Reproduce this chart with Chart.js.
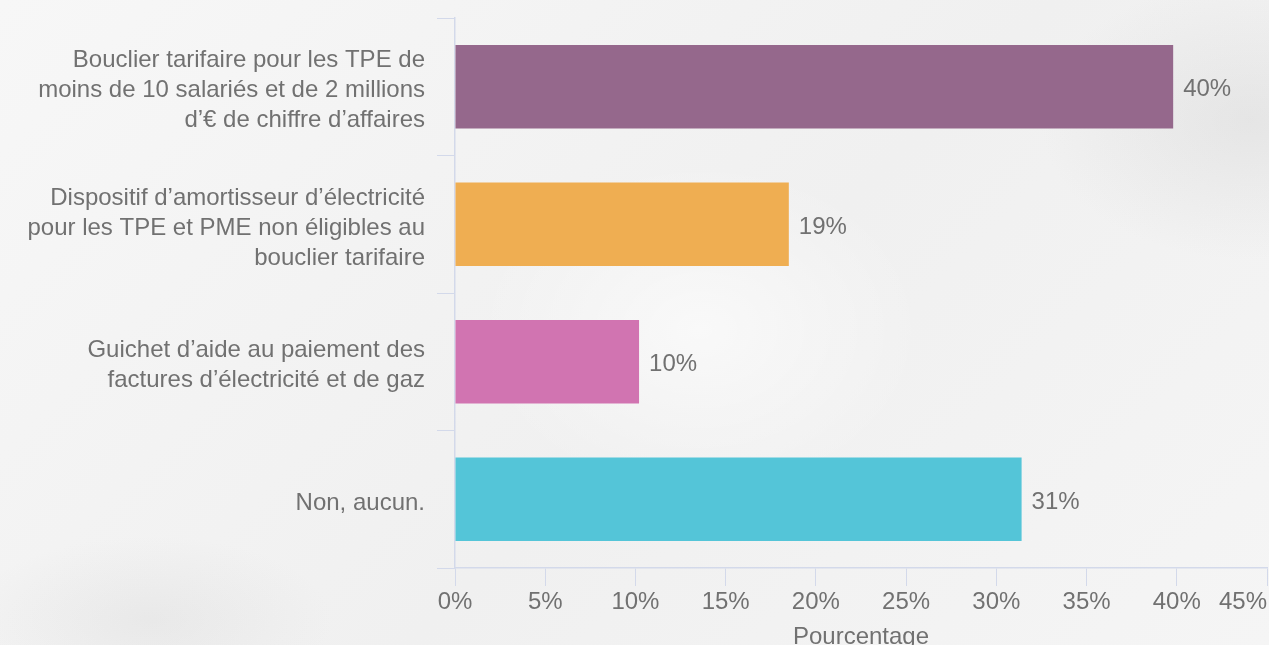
<!DOCTYPE html>
<html lang="fr">
<head>
<meta charset="utf-8">
<title>Dispositifs d'aide</title>
<script src="https://cdn.jsdelivr.net/npm/chart.js@4.4.1/dist/chart.umd.min.js"></script>
<style>
    html, body {
        margin: 0;
        padding: 0;
        width: 1269px;
        height: 645px;
        overflow: hidden;
        font-family: "Liberation Sans", Arial, sans-serif;
        background-color: #f3f3f3;
        background-image:
            radial-gradient(ellipse 300px 200px at 1250px 120px, rgba(200,200,200,0.3), rgba(200,200,200,0) 70%),
            radial-gradient(ellipse 260px 120px at 150px 620px, rgba(205,205,205,0.25), rgba(205,205,205,0) 70%),
            radial-gradient(ellipse 320px 240px at 700px 330px, rgba(255,255,255,0.6), rgba(255,255,255,0) 70%),
            linear-gradient(135deg, #f7f7f7 0%, #f0f0f0 55%, #f5f5f5 100%);
    }
    #wrap {
        position: relative;
        width: 1269px;
        height: 656px;
    }
</style>
</head>
<body>
<div id="wrap">
    <canvas id="chart" width="1269" height="656"></canvas>
</div>
<script>
// --- Données ---
const categories = [
    ["Bouclier tarifaire pour les TPE de", "moins de 10 salariés et de 2 millions", "d’€ de chiffre d’affaires"],
    ["Dispositif d’amortisseur d’électricité", "pour les TPE et PME non éligibles au", "bouclier tarifaire"],
    ["Guichet d’aide au paiement des", "factures d’électricité et de gaz"],
    ["Non, aucun."]
];
const values = [39.8, 18.5, 10.2, 31.4];
const valueLabels = ["40%", "19%", "10%", "31%"];
const barColors = ["#95688c", "#efae52", "#d174b1", "#54c5d8"];
const xTicks = [0, 5, 10, 15, 20, 25, 30, 35, 40, 45];
const axisTitle = "Pourcentage";

const textColor = "#717171";
const axisColor = "#d3d9ea";
const fontFamily = "'Liberation Sans', Arial, sans-serif";

// Étiquettes de valeur à droite des barres
const valueLabelPlugin = {
    id: 'valueLabels',
    afterDatasetsDraw(chart) {
        const ctx = chart.ctx;
        const meta = chart.getDatasetMeta(0);
        ctx.save();
        ctx.font = "24px " + fontFamily;
        ctx.fillStyle = textColor;
        ctx.textAlign = "left";
        ctx.textBaseline = "middle";
        meta.data.forEach((bar, i) => {
            ctx.fillText(valueLabels[i], bar.x + 10, bar.y + 3);
        });
        ctx.restore();
    }
};

// Étiquettes de l'axe X (la dernière est recalée pour rester visible)
const xLabelPlugin = {
    id: 'xLabels',
    afterDraw(chart) {
        const ctx = chart.ctx;
        const scale = chart.scales.x;
        ctx.save();
        ctx.font = "24px " + fontFamily;
        ctx.fillStyle = textColor;
        ctx.textAlign = "center";
        ctx.textBaseline = "middle";
        xTicks.forEach(v => {
            const txt = v + "%";
            const w = ctx.measureText(txt).width;
            let px = scale.getPixelForValue(v);
            px = Math.min(px, chart.width - w / 2 - 2);
            ctx.fillText(txt, px, scale.top + 34);
        });
        ctx.restore();
    }
};

const ctx = document.getElementById('chart').getContext('2d');
const chart = new Chart(ctx, {
    type: 'bar',
    data: {
        labels: categories,
        datasets: [{
            data: values,
            backgroundColor: barColors,
            borderWidth: 0,
            categoryPercentage: 0.8,
            barPercentage: 0.76
        }]
    },
    options: {
        indexAxis: 'y',
        responsive: false,
        animation: false,
        layout: { padding: { top: 18, right: 2, bottom: 0, left: 0 } },
        plugins: {
            legend: { display: false },
            tooltip: { enabled: false }
        },
        scales: {
            x: {
                min: 0,
                max: 45,
                ticks: {
                    stepSize: 5,
                    color: 'rgba(0,0,0,0)',
                    font: { family: fontFamily, size: 24 },
                    callback: v => v + '%'
                },
                grid: {
                    drawOnChartArea: false,
                    tickLength: 18,
                    color: axisColor
                },
                border: { color: axisColor, width: 1.5 },
                title: {
                    display: true,
                    text: axisTitle,
                    color: textColor,
                    font: { family: fontFamily, size: 24 },
                    padding: { top: 4, bottom: 4 }
                },
                afterFit(scale) {
                    scale.height = 88;
                    scale.paddingLeft = 0;
                    scale.paddingRight = 0;
                }
            },
            y: {
                ticks: {
                    color: textColor,
                    padding: 12,
                    labelOffset: 4,
                    font: { family: fontFamily, size: 24, lineHeight: 1.25 }
                },
                grid: {
                    offset: true,
                    drawOnChartArea: false,
                    tickLength: 18,
                    color: axisColor
                },
                border: { color: axisColor, width: 1.5 },
                afterFit(scale) {
                    scale.width = 455;
                    scale.paddingTop = 0;
                    scale.paddingBottom = 0;
                }
            }
        }
    },
    plugins: [valueLabelPlugin, xLabelPlugin]
});
</script>
</body>
</html>
